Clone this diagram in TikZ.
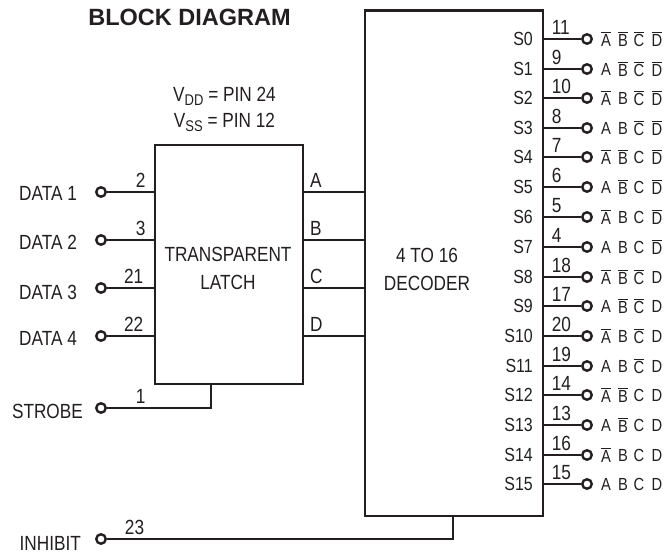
\documentclass[tikz,border=0pt]{standalone}
\usepackage{fontspec}
\setmainfont[FakeStretch=0.84]{Liberation Sans}
\newfontfamily\titlefont{Liberation Sans}
\usepackage{tikz}
\usetikzlibrary{positioning}
\definecolor{ink}{HTML}{231F20}
\tikzset{
    block/.style={
           rectangle,
           draw=ink, line width=2.2pt,
           anchor=north west,
           inner sep=0pt,
           },
    pin/.style={
           circle,
           draw=ink, line width=2.4pt,
           fill=white,
           minimum size=9.5pt,
           inner sep=0pt,
           },
    wire/.style={draw=ink, line width=2pt},
    pinno/.style={above, inner sep=1pt, yshift=2.5pt, xshift=-3.5pt},
    pinname/.style={inner sep=0pt},
    caption/.style={align=center},
    term/.style={inner sep=0pt,font=\fontsize{17.5}{20}\selectfont},
    outname/.style={anchor=east,inner sep=0pt,font=\fontsize{19}{22}\selectfont},
}
\newcommand{\nbar}[1]{$\overline{\hbox{#1}}$}
\newcommand{\subtxt}[1]{\raisebox{-4pt}{\fontsize{15.5}{15.5}\selectfont #1}}
\begin{document}
\begin{tikzpicture}[x=1pt,y=-1pt,text=ink,font=\fontsize{20.5}{23}\selectfont]
        \useasboundingbox (0,0) rectangle (667,553);

        % Title and supply pins
        \node[font=\titlefont\fontsize{23.5}{26}\selectfont\bfseries] (TITLE) at (189.5,17) {BLOCK DIAGRAM};
        \node (VDD) at (224.5,96) {V\subtxt{DD} = PIN 24};
        \node (VSS) at (224.5,122) {V\subtxt{SS} = PIN 12};

        % Latch
        \node[block, minimum width=148pt, minimum height=239pt] (LATCH) at (153.5,144) {};
        \node[caption] (LATCHTXT) at (228,268) {TRANSPARENT\\[5pt]LATCH};

        % Decoder
        \node[block, minimum width=178pt, minimum height=505pt] (DECODER) at (364,9.5) {};
        \node[caption] (DECODERTXT) at (427,269) {4 TO 16\\[5pt]DECODER};

        % Inputs
        \node[pin] (IN1) at (101,192) {};
        \node[pin] (IN2) at (101,240) {};
        \node[pin] (IN3) at (101,288) {};
        \node[pin] (IN4) at (101,336) {};
        \node[pin] (STROBE) at (101,408) {};
        \node[pin] (INHIBIT) at (101,539) {};
        \node[pinname, left=18pt of IN1, yshift=-1pt] (LIN1) {DATA 1};
        \node[pinname, left=18pt of IN2, yshift=-2pt] (LIN2) {DATA 2};
        \node[pinname, left=18pt of IN3, yshift=-4pt] (LIN3) {DATA 3};
        \node[pinname, left=18pt of IN4, yshift=-2pt] (LIN4) {DATA 4};
        \node[pinname, left=12pt of STROBE, yshift=-3pt] (LSTROBE) {STROBE};
        \node[pinname, left=14pt of INHIBIT, yshift=-4pt] (LINHIBIT) {INHIBIT};

        % Latch outputs
        \coordinate (QA) at (364,192);
        \coordinate (QB) at (364,240);
        \coordinate (QC) at (364,288);
        \coordinate (QD) at (364,336);
        \coordinate (STEMS) at (210.5,408);
        \coordinate (STEMI) at (452.7,539);

        % draw the paths and print the pin numbers above them
        \path[wire]
            (IN1)   edge node[pinno,pos=0.8]{2}  (LATCH.west |- IN1)
            (IN2)   edge node[pinno,pos=0.8]{3}  (LATCH.west |- IN2)
            (IN3)   edge node[pinno,pos=0.65]{21} (LATCH.west |- IN3)
            (IN4)   edge node[pinno,pos=0.65]{22} (LATCH.west |- IN4)
            (LATCH.east |- QA) edge node[pinno,pos=0.13,anchor=south west]{A} (QA)
            (LATCH.east |- QB) edge node[pinno,pos=0.13,anchor=south west]{B} (QB)
            (LATCH.east |- QC) edge node[pinno,pos=0.13,anchor=south west]{C} (QC)
            (LATCH.east |- QD) edge node[pinno,pos=0.13,anchor=south west]{D} (QD);
        \draw[wire] (STROBE) -- node[pinno,pos=0.36]{1} (STEMS) -- (STEMS |- LATCH.south);
        \draw[wire] (INHIBIT) -- node[pinno,pos=0.09]{23} (STEMI) -- (STEMI |- DECODER.south);

        % Decoder outputs
        \foreach \i/\ypos/\pinno/\la/\lb/\lc/\ld in {
            0/39/11/\nbar{A}/\nbar{B}/\nbar{C}/\nbar{D},
            1/69/9/A/\nbar{B}/\nbar{C}/\nbar{D},
            2/98/10/\nbar{A}/B/\nbar{C}/\nbar{D},
            3/128/8/A/B/\nbar{C}/\nbar{D},
            4/157/7/\nbar{A}/\nbar{B}/C/\nbar{D},
            5/187/6/A/\nbar{B}/C/\nbar{D},
            6/217/5/\nbar{A}/B/C/\nbar{D},
            7/247/4/A/B/C/\nbar{D},
            8/277/18/\nbar{A}/\nbar{B}/\nbar{C}/D,
            9/306/17/A/\nbar{B}/\nbar{C}/D,
            10/336/20/\nbar{A}/B/\nbar{C}/D,
            11/366/19/A/B/\nbar{C}/D,
            12/395/14/\nbar{A}/\nbar{B}/C/D,
            13/425/13/A/\nbar{B}/C/D,
            14/455/16/\nbar{A}/B/C/D,
            15/484/15/A/B/C/D}
        {
            \node[pin] (OUT\i) at (587,\ypos) {};
            \node[outname] (S\i) at (533,\ypos) {S\i};
            \path[wire] (DECODER.east |- OUT\i) edge node[pinno,pos=0.25,anchor=south west]{\pinno} (OUT\i);
            \node[term] (LA\i) at (606,\ypos) {\la};
            \node[term] (LB\i) at (623,\ypos) {\lb};
            \node[term] (LC\i) at (639,\ypos) {\lc};
            \node[term] (LD\i) at (657,\ypos) {\ld};
        }
\end{tikzpicture}
\end{document}
